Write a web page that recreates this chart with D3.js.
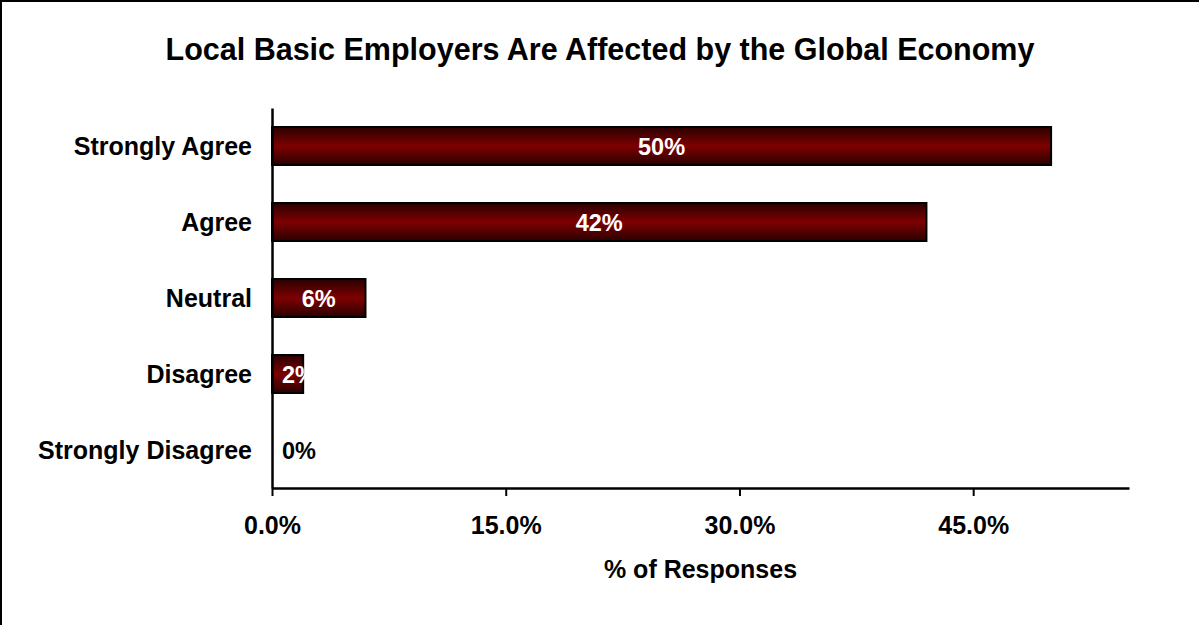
<!DOCTYPE html>
<html><head><meta charset="utf-8">
<script src="https://cdn.jsdelivr.net/npm/d3@7"></script>
<style>html,body{margin:0;padding:0;background:#fff;overflow:hidden}svg{display:block}text{font-family:"Liberation Sans",Arial,sans-serif;font-weight:bold}</style>
</head><body><svg id="c" width="1199" height="625"></svg>
<script>
const categories = ["Strongly Agree","Agree","Neutral","Disagree","Strongly Disagree"];
const values = [50, 42, 6, 2, 0];
const tickValues = [0, 15, 30, 45];
const title = "Local Basic Employers Are Affected by the Global Economy";
const xTitle = "% of Responses";

const svg = d3.select("#c");
svg.append("rect").attr("x",1).attr("y",1).attr("width",1230).attr("height",660)
  .attr("fill","#fff").attr("stroke","#000").attr("stroke-width",2);

const defs = svg.append("defs");
const g = defs.append("linearGradient").attr("id","bg").attr("x1",0).attr("y1",0).attr("x2",0).attr("y2",1);
g.append("stop").attr("offset","0%").attr("stop-color","#2a0000");
g.append("stop").attr("offset","50%").attr("stop-color","#7e0000");
g.append("stop").attr("offset","100%").attr("stop-color","#2a0000");

const pL = 272, pR = 1129, pT = 108, pB = 488;
const x = d3.scaleLinear().domain([0,55]).range([pL,pR]);
const y = d3.scaleBand().domain(categories).range([pT,pB]).paddingInner(0.5).paddingOuter(0.25);

svg.append("text").attr("x",600).attr("y",60).attr("text-anchor","middle")
  .attr("font-size",30.5).text(title);

svg.selectAll("rect.bar").data(values).join("rect").attr("class","bar")
  .attr("x",x(0)).attr("y",(d,i)=>y(categories[i]))
  .attr("width",d=>x(d)-x(0)).attr("height",y.bandwidth())
  .attr("fill","url(#bg)").attr("stroke",d=>d>0?"#000":"none").attr("stroke-width",2);

svg.selectAll("text.val").data(values).join("text").attr("class","val")
  .attr("y",(d,i)=>y(categories[i])+y.bandwidth()/2+8.5)
  .attr("text-anchor","start")
  .attr("fill",d=>d>0?"#fff":"#000")
  .attr("font-size",23.5).text(d=>d+"%")
  .attr("x",function(d){
    const w = this.getComputedTextLength();
    return Math.max((x(0)+x(d))/2 - w/2, x(0)+10);
  });

const xa = svg.append("g").attr("transform",`translate(0,${pB})`)
  .call(d3.axisBottom(x).tickValues(tickValues).tickSize(8).tickSizeOuter(0).tickFormat(d=>d.toFixed(1)+"%"));
xa.select(".domain").attr("stroke","#000").attr("stroke-width",2.5);
xa.selectAll(".tick line").attr("stroke","#000").attr("stroke-width",2);
xa.selectAll(".tick text").attr("font-size",25).attr("fill","#000").attr("dy",0).attr("y",46)
  .style("font-family","'Liberation Sans',Arial,sans-serif").style("font-weight","bold");

const ya = svg.append("g").attr("transform",`translate(${pL},0)`)
  .call(d3.axisLeft(y).tickSize(0).tickPadding(20).tickSizeOuter(0));
ya.select(".domain").attr("stroke","#000").attr("stroke-width",2.5);
ya.selectAll(".tick text").attr("font-size",25).attr("fill","#000").attr("dy","0.35em")
  .style("font-family","'Liberation Sans',Arial,sans-serif").style("font-weight","bold");

svg.append("text").attr("x",(pL+pR)/2).attr("y",578).attr("text-anchor","middle")
  .attr("font-size",25).text(xTitle);
</script></body></html>
